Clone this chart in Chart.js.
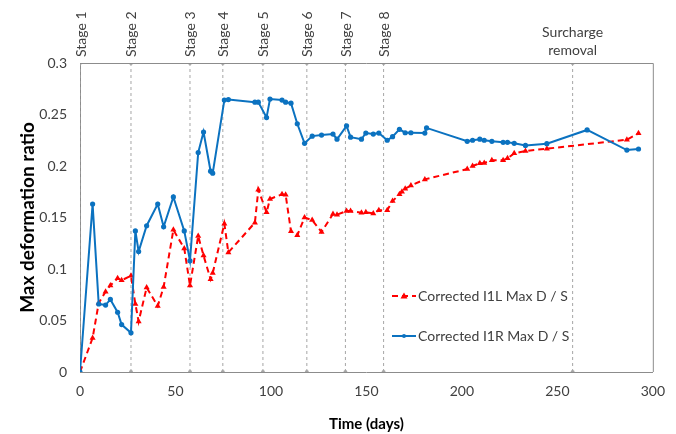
<!DOCTYPE html>
<html>
<head>
<meta charset="utf-8">
<script src="https://cdn.jsdelivr.net/npm/chart.js@4.4.1/dist/chart.umd.min.js"></script>
<style>
  html, body { margin: 0; padding: 0; background: #ffffff; }
  #wrap { width: 676px; height: 434px; position: relative; }
</style>
</head>
<body>
<div id="wrap"><canvas id="c" width="676" height="434"></canvas></div>
<script>
// ---- data ----
const timeL = [0, 6.6, 9.8, 13.4, 15.9, 19.7, 21.8, 26.7, 29, 30.7, 34.9, 40.7, 43.8, 48.9, 54.6, 57.6,
  61.9, 64.7, 68.4, 69.5, 75.6, 77.7, 91.6, 93.4, 97.7, 99.5, 105.8, 107.7, 110.5, 113.8,
  117.6, 121.6, 126.5, 132.5, 134.6, 139.6, 141.7, 147.4, 149.7, 153.6, 156.5, 160.9, 163.7,
  167.3, 168.6, 170.3, 173.3, 180.6, 202.8, 205.6, 209.4, 211.7, 215.7, 221.6, 223.9, 227.4,
  233.3, 244.5, 286.4, 292.5];
const valuesL = [0, 0.033, 0.067, 0.078, 0.084, 0.091, 0.089, 0.0935, 0.066, 0.049, 0.082, 0.064, 0.0825, 0.138, 0.120, 0.084,
  0.132, 0.113, 0.090, 0.096, 0.144, 0.116, 0.145, 0.177, 0.155, 0.168, 0.1725, 0.172, 0.1366, 0.1327,
  0.150, 0.1475, 0.136, 0.1534, 0.1527, 0.1563, 0.1563, 0.1547, 0.155, 0.154, 0.157, 0.157, 0.166,
  0.1725, 0.175, 0.178, 0.181, 0.187, 0.197, 0.200, 0.2026, 0.203, 0.2055, 0.2055, 0.2075, 0.2123,
  0.2146, 0.2168, 0.2255, 0.2317];

const timeR = [0, 6.6, 9.8, 13.4, 15.9, 19.7, 21.8, 26.7, 29, 30.7, 34.9, 40.7, 43.8, 48.9, 54.6, 57.6,
  61.9, 64.7, 68.4, 69.5, 75.6, 77.7, 91.6, 93.4, 97.7, 99.5, 105.8, 107.7, 110.5, 113.8,
  117.6, 121.6, 126.5, 132.5, 134.6, 139.6, 141.7, 147.4, 149.7, 153.6, 156.5, 160.9, 163.7,
  167.3, 170.3, 173.3, 180.6, 181.5, 202.8, 205.6, 209.4, 211.7, 215.7, 221.6, 223.9, 227.4,
  233.3, 244.5, 265.6, 286.4, 292.5];
const valuesR = [0, 0.163, 0.066, 0.065, 0.0705, 0.058, 0.046, 0.038, 0.137, 0.117, 0.142, 0.163, 0.141, 0.170, 0.137, 0.108,
  0.213, 0.233, 0.195, 0.193, 0.264, 0.2645, 0.262, 0.262, 0.247, 0.265, 0.264, 0.262, 0.261, 0.241,
  0.222, 0.229, 0.230, 0.231, 0.226, 0.239, 0.228, 0.226, 0.232, 0.231, 0.232, 0.225, 0.2285,
  0.2356, 0.2323, 0.2323, 0.232, 0.237, 0.224, 0.225, 0.226, 0.225, 0.224, 0.223, 0.223, 0.222,
  0.220, 0.2217, 0.235, 0.2155, 0.2165];

const stageDays = [0, 26.7, 57.6, 74.8, 95.8, 118.8, 139, 159, 258];
const stageLabels = ['Stage 1', 'Stage 2', 'Stage 3', 'Stage 4', 'Stage 5', 'Stage 6', 'Stage 7', 'Stage 8', ['Surcharge', 'removal']];
const seriesNames = ['Corrected I1L Max D / S', 'Corrected I1R Max D / S'];
const yRange = [0, 0.3];
const xRange = [0, 300];

const FONT = 'Lato, "Open Sans", sans-serif';
const TXT = '#404040';
const AXIS = '#8c8c8c';

const pts = (xs, ys) => xs.map((x, i) => ({ x: x, y: ys[i] }));

const stageSets = stageDays.map(d => ({
  label: '_stage',
  data: [{ x: d, y: yRange[0] }, { x: d, y: yRange[1] }],
  borderColor: '#a6a6a6',
  borderWidth: 1,
  borderDash: [3, 3],
  pointRadius: 2,
  pointBackgroundColor: '#a6a6a6',
  pointBorderWidth: 0,
  fill: false,
  order: 10
}));

const seriesSets = [
  {
    label: seriesNames[0],
    data: pts(timeL, valuesL),
    borderColor: '#ff0000',
    backgroundColor: '#ff0000',
    borderWidth: 2,
    borderDash: [6, 4],
    pointStyle: 'triangle',
    pointRadius: 3.5,
    pointBorderWidth: 0,
    order: 1,
    tension: 0
  },
  {
    label: seriesNames[1],
    data: pts(timeR, valuesR),
    borderColor: '#0b72c0',
    backgroundColor: '#0b72c0',
    borderWidth: 2,
    pointStyle: 'circle',
    pointRadius: 2.6,
    pointBorderWidth: 0,
    order: 0,
    tension: 0
  }
];

const decorPlugin = {
  id: 'decor',
  afterDraw(chart) {
    const ctx = chart.ctx;
    const a = chart.chartArea;
    const xs = chart.scales.x;
    ctx.save();
    // top & right frame
    ctx.strokeStyle = AXIS;
    ctx.lineWidth = 1;
    ctx.beginPath();
    ctx.moveTo(a.left, a.top + 0.5);
    ctx.lineTo(a.right + 0.5, a.top + 0.5);
    ctx.lineTo(a.right + 0.5, a.bottom);
    ctx.stroke();
    // stage labels
    ctx.fillStyle = TXT;
    ctx.font = '14px ' + FONT;
    stageLabels.forEach((lab, i) => {
      const px = xs.getPixelForValue(stageDays[i]);
      if (Array.isArray(lab)) {
        ctx.textAlign = 'center';
        ctx.textBaseline = 'middle';
        lab.forEach((ln, j) => ctx.fillText(ln, px, 32 + j * 18));
      } else {
        ctx.save();
        ctx.translate(px + 1, a.top - 6);
        ctx.rotate(-Math.PI / 2);
        ctx.textAlign = 'left';
        ctx.textBaseline = 'middle';
        ctx.fillText(lab, 0, 0);
        ctx.restore();
      }
    });
    // legend
    const lx = 392, ly = [296, 336];
    seriesSets.forEach((ds, i) => {
      const y = ly[i];
      ctx.strokeStyle = ds.borderColor;
      ctx.lineWidth = 2;
      ctx.setLineDash(ds.borderDash || []);
      ctx.beginPath();
      ctx.moveTo(lx, y);
      ctx.lineTo(lx + 24, y);
      ctx.stroke();
      ctx.setLineDash([]);
      ctx.fillStyle = ds.backgroundColor;
      if (ds.pointStyle === 'triangle') {
        ctx.beginPath();
        ctx.moveTo(lx + 12, y - 3.5);
        ctx.lineTo(lx + 15.5, y + 2.5);
        ctx.lineTo(lx + 8.5, y + 2.5);
        ctx.closePath();
        ctx.fill();
      } else {
        ctx.beginPath();
        ctx.arc(lx + 12, y, 2, 0, Math.PI * 2);
        ctx.fill();
      }
      ctx.fillStyle = TXT;
      ctx.font = '14px ' + FONT;
      ctx.textAlign = 'left';
      ctx.textBaseline = 'middle';
      ctx.fillText(ds.label, lx + 26, y);
    });
    ctx.restore();
  }
};

new Chart(document.getElementById('c'), {
  type: 'line',
  data: { datasets: seriesSets.concat(stageSets) },
  options: {
    responsive: false,
    animation: false,
    layout: { padding: { top: 63, right: 23, left: 0, bottom: 0 } },
    plugins: { legend: { display: false }, tooltip: { enabled: false } },
    scales: {
      x: {
        type: 'linear',
        min: xRange[0], max: xRange[1],
        ticks: { stepSize: 50, color: TXT, font: { family: FONT, size: 14 }, padding: 11, maxRotation: 0 },
        grid: { display: false, drawTicks: false },
        border: { display: true, color: AXIS, width: 1 },
        title: { display: true, text: 'Time (days)', color: '#000', font: { family: FONT, size: 15, weight: 'bold', lineHeight: 1.2 }, padding: { top: 0, bottom: 1 } },
        afterFit(s) { s.height = 62; }
      },
      y: {
        type: 'linear',
        min: yRange[0], max: yRange[1],
        ticks: {
          stepSize: 0.05, color: TXT, font: { family: FONT, size: 14 }, padding: 13,
          callback: v => String(parseFloat(Number(v).toFixed(2)))
        },
        grid: { display: false, drawTicks: false },
        border: { display: true, color: AXIS, width: 1 },
        title: { display: true, text: 'Max deformation ratio', color: '#000', font: { family: FONT, size: 19, weight: 'bold', lineHeight: 1.2 }, padding: { top: 16, bottom: 0 } },
        afterFit(s) { s.width = 80; }
      }
    }
  },
  plugins: [decorPlugin]
});
</script>
</body>
</html>
